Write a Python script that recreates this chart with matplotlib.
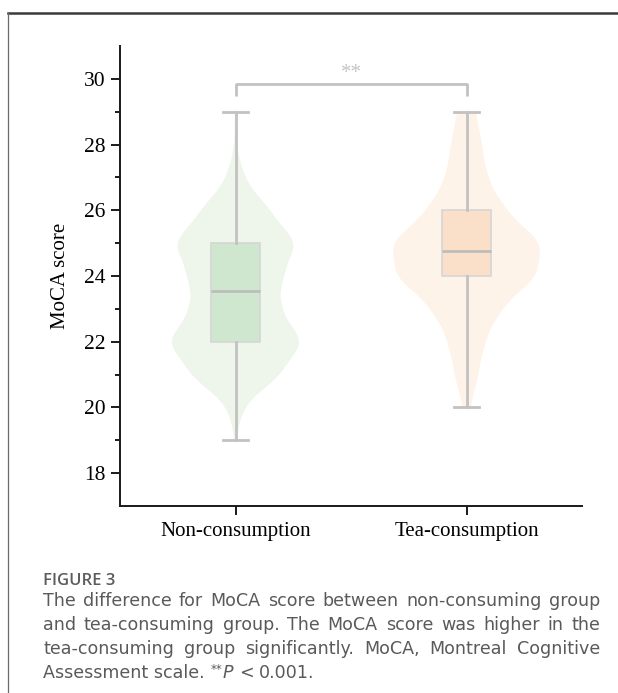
import numpy as np
import matplotlib
matplotlib.use("Agg")
import matplotlib.pyplot as plt
from matplotlib.lines import Line2D

# MoCA score counts per group (integer scores)
scores = [19, 20, 21, 22, 23, 24, 25, 26, 27, 28, 29]
non_counts = [1, 8, 56, 86, 54, 58, 78, 42, 10, 1, 1]
tea_counts = [0, 3, 10, 15, 28, 60, 64, 32, 17, 13, 8]

groups = ["Non-consumption", "Tea-consumption"]

# box summary: q1, median, q3, whisker low, whisker high
box_q1 = [22, 24]
box_med = [23.55, 24.75]
box_q3 = [25, 26]
box_lo = [19, 20]
box_hi = [29, 29]

violin_colors = ["#eef6ec", "#fef3e8"]
box_colors = ["#cfe6cf", "#fbe0c9"]

sig_label = "**"

caption_head = "FIGURE 3"
caption_lines = [
    "The difference for MoCA score between non-consuming group",
    "and tea-consuming group. The MoCA score was higher in the",
    "tea-consuming group significantly. MoCA, Montreal Cognitive",
]

W, H, DPI = 618, 693, 100
fig = plt.figure(figsize=(W / DPI, H / DPI), dpi=DPI)
ax = fig.add_axes([120 / W, 1 - 506 / H, 462 / W, 460 / H])

serif = "Liberation Serif"

data = [np.repeat(scores, non_counts), np.repeat(scores, tea_counts)]
pos = [0, 1]

vp = ax.violinplot(data, positions=pos, widths=[0.55, 0.635], bw_method=0.29,
                   showextrema=False, points=200)
for body, c in zip(vp["bodies"], violin_colors):
    body.set_facecolor(c)
    body.set_edgecolor("none")
    body.set_alpha(1)
    body.set_zorder(1)

stats = []
for i in range(2):
    stats.append({"med": box_med[i], "q1": box_q1[i], "q3": box_q3[i],
                  "whislo": box_lo[i], "whishi": box_hi[i], "fliers": []})

bp = ax.bxp(stats, positions=pos, widths=0.21, capwidths=0.11,
            patch_artist=True, showfliers=False,
            boxprops=dict(edgecolor="#d6d6d6", linewidth=1.2),
            whiskerprops=dict(color="#c2c2c2", linewidth=2),
            capprops=dict(color="#c2c2c2", linewidth=2),
            medianprops=dict(color="#bdbdbd", linewidth=2))
for patch, c in zip(bp["boxes"], box_colors):
    patch.set_facecolor(c)
    patch.set_zorder(2)
for key in ["whiskers", "caps", "medians"]:
    for ln in bp[key]:
        ln.set_zorder(3)

# significance bracket
ax.plot([0, 0, 1, 1], [29.47, 29.83, 29.83, 29.47], color="#c2c2c2", lw=2,
        solid_capstyle="butt", clip_on=False)
ax.text(0.5, 29.86, sig_label, ha="center", va="bottom", color="#c4c4c4",
        fontsize=15, family=serif)

ax.set_xlim(-0.5, 1.5)
ax.set_ylim(17, 31)
ax.set_xticks(pos)
ax.set_xticklabels(groups, fontsize=15, family=serif)
ax.set_yticks(np.arange(18, 31, 2))
ax.set_yticks(np.arange(19, 31, 2), minor=True)
for lab in ax.get_yticklabels():
    lab.set_family(serif)
    lab.set_fontsize(15.5)
ax.set_ylabel("MoCA score", fontsize=15, family=serif, labelpad=10)

ax.spines["top"].set_visible(False)
ax.spines["right"].set_visible(False)
for s in ["left", "bottom"]:
    ax.spines[s].set_linewidth(1.4)
    ax.spines[s].set_color("#1a1a1a")
ax.tick_params(axis="both", which="major", length=6.5, width=1.4, color="#1a1a1a", pad=4)
ax.tick_params(axis="y", which="minor", length=3.5, width=1.4, color="#1a1a1a")
ax.tick_params(axis="x", which="major", pad=5)

# frame around the figure panel
fig.add_artist(Line2D([8 / W, 1], [1 - 13 / H, 1 - 13 / H], color="#3a3a3a", lw=1.8))
fig.add_artist(Line2D([8 / W, 8 / W], [0, 1 - 13 / H], color="#6a6a6a", lw=0.9))

# caption
sans = "DejaVu Sans"
txt_col = "#5a5a5a"
cap_kw = dict(family=sans, fontsize=12.6, color=txt_col, va="baseline")
renderer = fig.canvas.get_renderer()

fig.text(43 / W, 1 - 585 / H, caption_head, family="Open Sans", fontsize=12,
         color="#5c5c5c", weight="semibold", va="baseline")

x_left, x_right = 43, 600
baselines = [606.5, 630.5, 654.5, 678]


def text_w(t):
    return t.get_window_extent(renderer).width


for line, yb in zip(caption_lines, baselines):
    words = line.split(" ")
    texts = [fig.text(0, 1 - yb / H, w, **cap_kw) for w in words]
    widths = [text_w(t) for t in texts]
    gap = (x_right - x_left - sum(widths)) / (len(words) - 1)
    x = x_left
    for t, w in zip(texts, widths):
        t.set_x(x / W)
        x += w + gap

# last line with superscript and italic P
probe_a = fig.text(0, 0, "a a", **cap_kw)
probe_b = fig.text(0, 0, "aa", **cap_kw)
space = text_w(probe_a) - text_w(probe_b)
probe_a.remove()
probe_b.remove()

yb = 1 - baselines[3] / H
x = x_left
t = fig.text(x / W, yb, "Assessment scale.", **cap_kw)
x += text_w(t) + space
t = fig.text(x / W, yb + 5 / H, "**", family=sans, fontsize=8.5, color=txt_col, va="baseline")
x += text_w(t) + 1
t = fig.text(x / W, yb, "P", style="italic", **cap_kw)
x += text_w(t) + space
t = fig.text(x / W, yb, "<", **cap_kw)
x += text_w(t) + space
fig.text(x / W, yb, "0.001.", **cap_kw)

fig.savefig("out.png", dpi=DPI)
